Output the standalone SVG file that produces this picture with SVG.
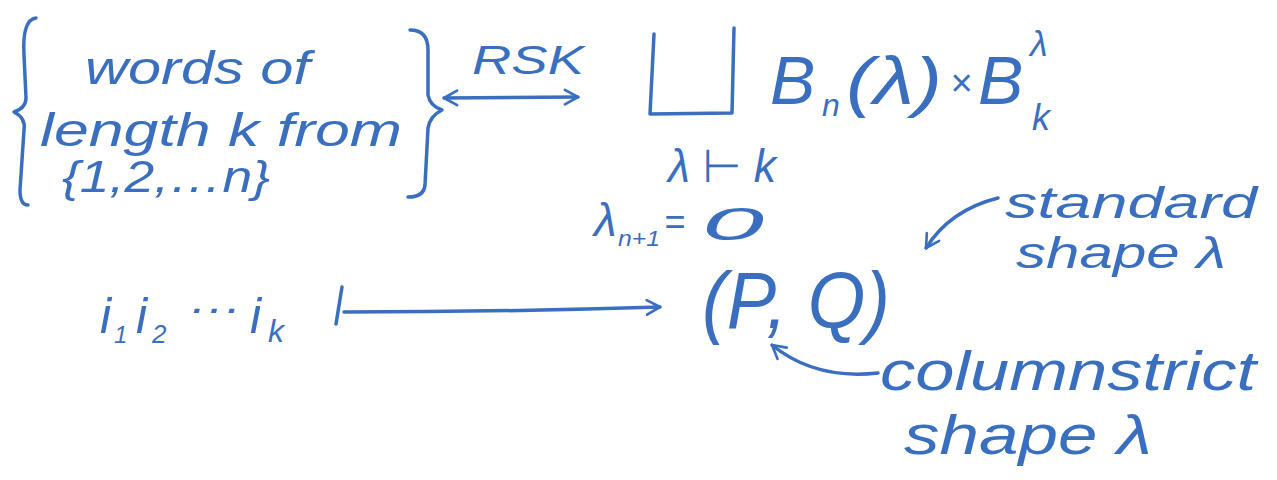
<svg xmlns="http://www.w3.org/2000/svg" width="1277" height="480" viewBox="0 0 1277 480">
<defs>
<style>
.t{font-family:"Liberation Sans","DejaVu Sans",sans-serif;font-style:italic;fill:#3a6fbf}
.s{fill:none;stroke:#3a6fbf;stroke-width:3.5;stroke-linecap:round;stroke-linejoin:round}
</style>
<marker id="ah" viewBox="0 0 12 12" refX="10" refY="6" markerWidth="5" markerHeight="5" orient="auto-start-reverse" markerUnits="strokeWidth">
<path d="M1,1 L10,6 L1,11" fill="none" stroke="#3a6fbf" stroke-width="1.8" stroke-linecap="round" stroke-linejoin="round"/>
</marker>
</defs>
<rect width="1277" height="480" fill="#ffffff"/>

<g id="words-set">
<path class="s" d="M36,18 Q22,20 24,55 L26,98 Q26,108 14,112 Q26,118 24,130 L20,190 Q20,205 28,205"/>
<path class="s" d="M410,30 Q428,30 428,50 L428,95 Q430,106 442,110 Q430,116 428,128 L425,185 Q424,197 408,197"/>
<text class="t" x="85" y="84" font-size="46" textLength="225" lengthAdjust="spacingAndGlyphs">words of</text>
<text class="t" x="40" y="146" font-size="46" textLength="362" lengthAdjust="spacingAndGlyphs">length k from</text>
<text class="t" x="62" y="192" font-size="44" textLength="208" lengthAdjust="spacingAndGlyphs">{1,2,…n}</text>
</g>

<g id="rsk-label">
<text class="t" x="472" y="74" font-size="40" textLength="112" lengthAdjust="spacingAndGlyphs">RSK</text>
</g>

<g id="coproduct">
<path class="s" d="M654,34 L650,114 L732,113 L734,28"/>
<text class="t" x="770" y="104" font-size="68">B</text>
<text class="t" x="822" y="116" font-size="32">n</text>
<text class="t" x="846" y="104" font-size="66" textLength="96" lengthAdjust="spacingAndGlyphs">(λ)</text>
<text class="t" x="950" y="96" font-size="38">×</text>
<text class="t" x="978" y="104" font-size="68">B</text>
<text class="t" x="1030" y="56" font-size="36">λ</text>
<text class="t" x="1032" y="130" font-size="36">k</text>
<text class="t" x="668" y="182" font-size="46" textLength="108" lengthAdjust="spacingAndGlyphs">λ ⊢ k</text>
<text class="t" x="594" y="236" font-size="46">λ</text>
<text class="t" x="618" y="246" font-size="22" textLength="42" lengthAdjust="spacingAndGlyphs">n+1</text>
<text class="t" x="664" y="234" font-size="36">=</text>
<text class="t" x="702" y="240" font-size="46" textLength="62" lengthAdjust="spacingAndGlyphs">0</text>
</g>

<g id="word">
<text class="t" x="100" y="333" font-size="50">i</text>
<text class="t" x="114" y="343" font-size="24">1</text>
<text class="t" x="136" y="333" font-size="50">i</text>
<text class="t" x="152" y="343" font-size="26">2</text>
<text class="t" x="188" y="322" font-size="38" textLength="52" lengthAdjust="spacingAndGlyphs">···</text>
<text class="t" x="250" y="333" font-size="50">i</text>
<text class="t" x="268" y="342" font-size="32">k</text>
</g>

<g id="pq">
<text class="t" x="702" y="328" font-size="80" textLength="188" lengthAdjust="spacingAndGlyphs">(P, Q)</text>
</g>

<g id="standard-label">
<text class="t" x="1005" y="218" font-size="44" textLength="252" lengthAdjust="spacingAndGlyphs">standard</text>
<text class="t" x="1016" y="268" font-size="44" textLength="210" lengthAdjust="spacingAndGlyphs">shape λ</text>
</g>

<g id="columnstrict-label">
<text class="t" x="880" y="390" font-size="56" textLength="376" lengthAdjust="spacingAndGlyphs">columnstrict</text>
<text class="t" x="904" y="454" font-size="56" textLength="248" lengthAdjust="spacingAndGlyphs">shape λ</text>
</g>

<g id="connectors">
<path class="s" d="M444,98 L578,97" marker-start="url(#ah)" marker-end="url(#ah)"/>
<path class="s" d="M342,287 L336,324"/>
<path class="s" d="M344,312 Q500,312 660,307" marker-end="url(#ah)"/>
<path class="s" d="M998,198 Q950,210 926,248" marker-end="url(#ah)"/>
<path class="s" d="M878,373 Q815,380 772,345" marker-end="url(#ah)"/>
</g>
</svg>
